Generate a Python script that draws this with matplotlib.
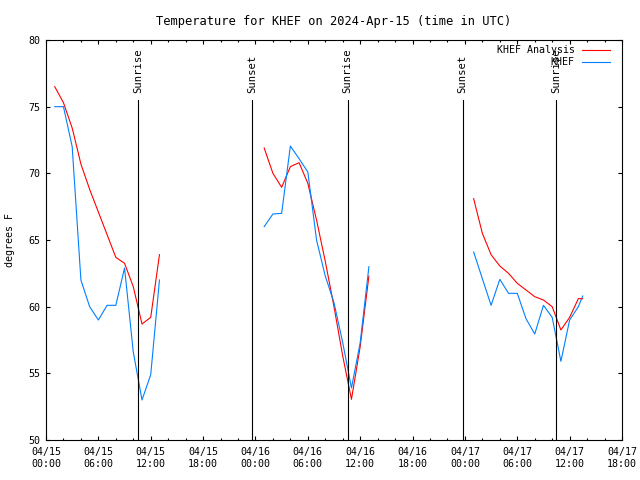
import numpy as np
import matplotlib
matplotlib.use('Agg')
import matplotlib.pyplot as plt
import matplotlib.dates as mdates
import pandas as pd

start = pd.Timestamp('2024-04-15 00:00')

# hours after 04/15 00:00 UTC, one list per day of data
seg_hours = [
    [1, 2, 3, 4, 5, 6, 7, 8, 9, 10, 11, 12, 13],
    [25, 26, 27, 28, 29, 30, 31, 32, 33, 34, 35, 36, 37],
    [49, 50, 51, 52, 53, 54, 55, 56, 57, 58, 59, 60, 61, 61.5],
]
analysis = [
    [76.5, 75.3, 73.4, 70.7, 68.8, 67.1, 65.4, 63.7, 63.25, 61.5, 58.7, 59.2, 63.9],
    [71.9, 70.0, 68.95, 70.5, 70.8, 69.25, 66.5, 63.4, 60.0, 56.3, 53.05, 57.0, 62.3],
    [68.1, 65.5, 63.9, 63.05, 62.5, 61.75, 61.25, 60.75, 60.5, 60.0, 58.25, 59.2, 60.6, 60.6],
]
observed = [
    [75.0, 75.0, 72.0, 62.0, 60.0, 59.0, 60.1, 60.1, 62.9, 56.6, 53.0, 54.9, 62.0],
    [66.0, 66.95, 67.0, 72.05, 71.1, 70.1, 65.0, 62.3, 60.3, 57.3, 53.9, 57.3, 63.0],
    [64.1, 62.1, 60.1, 62.05, 61.0, 61.0, 59.1, 57.95, 60.1, 59.2, 55.9, 59.0, 60.0, 60.8],
]
sun_hours = [10.58, 23.66, 34.55, 47.74, 58.49]
sun_labels = ['Sunrise', 'Sunset', 'Sunrise', 'Sunset', 'Sunrise']

font = {'family': 'DejaVu Sans Mono', 'size': 7.2}
plt.rc('font', **font)

def to_time(hrs):
    return [start + pd.Timedelta(hours=h) for h in hrs]

fig = plt.figure(figsize=(6.4, 4.8), dpi=100)
ax = fig.add_axes([46/640, 40/480, 576/640, 400/480])

red = '#ff0000'
blue = '#0080ff'
for hrs, a, o in zip(seg_hours, analysis, observed):
    t = to_time(hrs)
    ax.plot(t, a, color=red, lw=0.8)
    ax.plot(t, o, color=blue, lw=0.8)

for h, lab in zip(sun_hours, sun_labels):
    t = start + pd.Timedelta(hours=h)
    ax.plot([t, t], [50, 75.5], color='black', lw=0.8)
    ax.text(t, 76.0, lab, rotation=90, ha='center', va='bottom', fontsize=7.6)

ax.set_xlim(start, start + pd.Timedelta(hours=66))
ax.set_ylim(50, 80)
ax.set_yticks(np.arange(50, 81, 5))
ax.xaxis.set_major_locator(mdates.HourLocator(byhour=[0, 6, 12, 18]))
ax.xaxis.set_minor_locator(mdates.HourLocator(byhour=range(0, 24, 2)))
ax.xaxis.set_major_formatter(mdates.DateFormatter('%m/%d\n%H:%M'))
ax.tick_params(which='both', direction='in', top=True, right=True, width=0.8)
ax.tick_params(which='major', length=3)
ax.tick_params(which='minor', length=1.7)
ax.tick_params(axis='x', pad=5)
ax.tick_params(axis='y', pad=4)
for s in ax.spines.values():
    s.set_linewidth(0.8)

ax.set_title('Temperature for KHEF on 2024-Apr-15 (time in UTC)', pad=11)
ax.set_ylabel('degrees F', labelpad=10)

# legend drawn by hand so the labels line up on the right like gnuplot
ax.text(0.918, 0.975, 'KHEF Analysis', ha='right', va='center', transform=ax.transAxes)
ax.plot([0.931, 0.979], [0.975, 0.975], color=red, lw=0.8, transform=ax.transAxes)
ax.text(0.918, 0.945, 'KHEF', ha='right', va='center', transform=ax.transAxes)
ax.plot([0.931, 0.979], [0.945, 0.945], color=blue, lw=0.8, transform=ax.transAxes)

fig.savefig('out.png', dpi=100)
